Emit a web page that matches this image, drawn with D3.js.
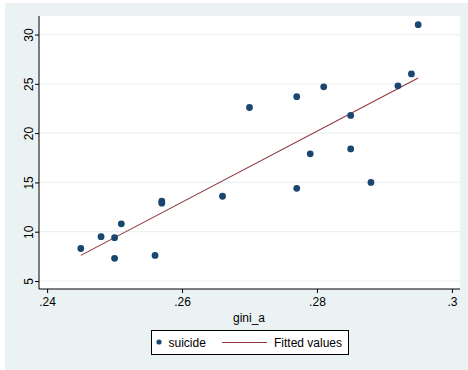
<!DOCTYPE html>
<html>
<head>
<meta charset="utf-8">
<script src="https://cdn.jsdelivr.net/npm/d3@7"></script>
<style>
  body { margin: 0; background: #fff; }
  svg { display: block; font-family: "Liberation Sans", Arial, sans-serif; }
</style>
</head>
<body>
<svg id="chart"></svg>
<script>
// gini_a vs suicide
var giniA = [0.245, 0.248, 0.250, 0.250, 0.251, 0.256, 0.257, 0.257, 0.266, 0.270,
             0.277, 0.277, 0.279, 0.281, 0.285, 0.285, 0.288, 0.292, 0.294, 0.295];
var suicide = [8.3, 9.5, 9.4, 7.3, 10.8, 7.6, 13.1, 12.9, 13.6, 22.6,
               23.7, 14.4, 17.9, 24.7, 21.8, 18.4, 15.0, 24.8, 26.0, 31.0];
// fitted line end points
var fitX = [0.245, 0.295];
var fitY = [7.6, 25.6];
var xTicks = [0.24, 0.26, 0.28, 0.30];
var xTickLabels = [".24", ".26", ".28", ".3"];
var yTicks = [5, 10, 15, 20, 25, 30];

var width = 468, height = 370;
var svg = d3.select("#chart").attr("width", width).attr("height", height);

var plotL = 39, plotR = 460, plotT = 16, plotB = 289;

svg.append("rect")
  .attr("x", 5).attr("y", 3)
  .attr("width", width - 5).attr("height", height - 3)
  .attr("fill", "#eaf2f3");

svg.append("rect")
  .attr("x", plotL).attr("y", plotT)
  .attr("width", plotR - plotL).attr("height", plotB - plotT)
  .attr("fill", "#fff");

var x = d3.scaleLinear().domain([0.2388, 0.3012]).range([plotL, plotR]);
var y = d3.scaleLinear().domain([4.19, 31.88]).range([plotB, plotT]);

// grid lines
svg.append("g").selectAll("line")
  .data(yTicks)
  .enter().append("line")
  .attr("x1", plotL).attr("x2", plotR)
  .attr("y1", d => y(d)).attr("y2", d => y(d))
  .attr("stroke", "#eaf2f3")
  .attr("stroke-width", 1.2);

// y axis
var yAxis = svg.append("g")
  .attr("transform", "translate(" + plotL + ",0)")
  .call(d3.axisLeft(y).tickValues(yTicks).tickSize(4).tickPadding(4).tickSizeOuter(0));
yAxis.select(".domain").attr("stroke", "#000").attr("d", "M0," + plotT + "V" + plotB);
yAxis.selectAll("text")
  .attr("font-size", 12)
  .attr("fill", "#000")
  .attr("transform", "rotate(-90)")
  .attr("x", 0).attr("y", -6)
  .attr("dy", "0")
  .attr("text-anchor", "middle");

// x axis
var xAxis = svg.append("g")
  .attr("transform", "translate(0," + plotB + ")")
  .call(d3.axisBottom(x).tickValues(xTicks).tickFormat((d, i) => xTickLabels[i])
    .tickSize(4).tickPadding(4).tickSizeOuter(0));
xAxis.select(".domain").attr("stroke", "#000").attr("d", "M" + plotL + ",0H" + plotR);
xAxis.selectAll("text").attr("font-size", 12).attr("fill", "#000");

svg.append("text")
  .attr("x", 249).attr("y", 322)
  .attr("text-anchor", "middle")
  .attr("font-size", 12)
  .text("gini_a");

// fitted line
svg.append("line")
  .attr("x1", x(fitX[0])).attr("y1", y(fitY[0]))
  .attr("x2", x(fitX[1])).attr("y2", y(fitY[1]))
  .attr("stroke", "#90353b")
  .attr("stroke-width", 1.1);

// points
svg.append("g").selectAll("circle")
  .data(giniA)
  .enter().append("circle")
  .attr("cx", d => x(d))
  .attr("cy", (d, i) => y(suicide[i]))
  .attr("r", 3.4)
  .attr("fill", "#1a476f");

// legend
var lg = svg.append("g");
lg.append("rect")
  .attr("x", 151.5).attr("y", 330.5)
  .attr("width", 197).attr("height", 24)
  .attr("fill", "#fff")
  .attr("stroke", "#000");
lg.append("circle")
  .attr("cx", 159).attr("cy", 342)
  .attr("r", 2.6)
  .attr("fill", "#1a476f");
lg.append("text")
  .attr("x", 168.5).attr("y", 346.5)
  .attr("font-size", 12)
  .text("suicide");
lg.append("line")
  .attr("x1", 222).attr("x2", 267)
  .attr("y1", 342.5).attr("y2", 342.5)
  .attr("stroke", "#90353b")
  .attr("stroke-width", 1.1);
lg.append("text")
  .attr("x", 274).attr("y", 346.5)
  .attr("font-size", 12)
  .text("Fitted values");
</script>
</body>
</html>
